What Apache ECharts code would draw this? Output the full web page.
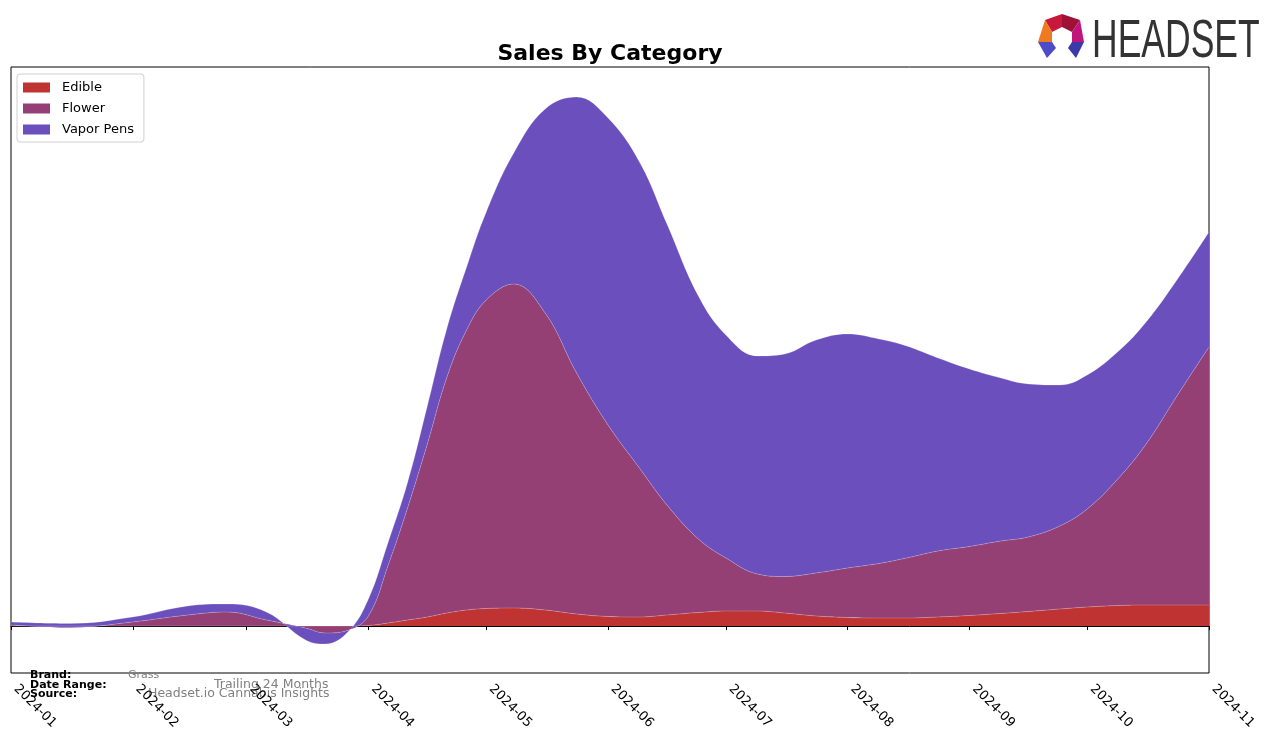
<!DOCTYPE html>
<html>
<head>
<meta charset="utf-8">
<script src="https://cdn.jsdelivr.net/npm/echarts@6/dist/echarts.min.js"></script>
<style>
html,body{margin:0;padding:0;background:#fff;}
#chart{width:1276px;height:743px;}
</style>
</head>
<body>
<div id="chart"></div>
<script>
// Sample dates
var dates = ['2024-01-01','2024-01-16','2024-02-01','2024-02-15','2024-02-25','2024-03-06','2024-03-16','2024-03-21','2024-03-27',
  '2024-04-01','2024-04-06','2024-04-11','2024-04-16','2024-04-21','2024-04-26','2024-05-01','2024-05-08','2024-05-16','2024-05-24',
  '2024-06-01','2024-06-09','2024-06-16','2024-06-24','2024-07-01','2024-07-09','2024-07-16','2024-07-24','2024-08-01','2024-08-09',
  '2024-08-16','2024-08-24','2024-09-01','2024-09-09','2024-09-16','2024-09-24','2024-10-01','2024-10-09','2024-10-16','2024-10-24','2024-11-01'];
var categories = ['Edible','Flower','Vapor Pens'];
var edible = [0,0,0,0,0,0,0,0,0,0.5,3,6,9,13,16,17.5,18,16,12,9.5,9,11,13.5,15,15,13,10,8.5,8,8,9,10.5,12.5,14.5,17,19,20.5,21,21,21];
var flower = [1,-1.5,4,11,14,6,-2,-7,-4,9.5,57.5,112.5,173,236,280,308.5,324,297,241,191.5,149,110,73.5,53,37,36.5,43,49.5,54.5,60,66,69,72.5,74.5,83,98,127.5,161,210,258];
var vaporPens = [3,4,5,9,8,8,-12,-11,-1,17,23,25.5,38,49,63,88,131,204,276,307,306,281,243,223,218,222.5,233,234,224.5,212,193,177.5,163,153,141,134,127,122,116,115];
var colors = ['#c03333','#954075','#6a4fbd'];
var seriesValues = [edible, flower, vaporPens];

var chart = echarts.init(document.getElementById('chart'));
var series = categories.map(function(name, i){
  return {
    name: name,
    type: 'line',
    stack: 'total',
    stackStrategy: 'all',
    smooth: 0.4,
    symbol: 'none',
    lineStyle: {width: 0.6, color: 'rgba(255,255,255,0.35)'},
    areaStyle: {color: colors[i], opacity: 1},
    itemStyle: {color: colors[i]},
    data: dates.map(function(d, k){ return [d, seriesValues[i][k]]; })
  };
});

var option = {
  animation: false,
  backgroundColor: '#fff',
  title: {
    text: 'Sales By Category',
    left: 605, top: 38, textAlign: 'center',
    textStyle: {fontFamily: 'DejaVu Sans', fontSize: 22, fontWeight: 'bold', color: '#000'}
  },
  legend: {
    orient: 'vertical', left: 17, top: 74,
    padding: [7, 10, 6, 6], itemGap: 8, itemWidth: 27, itemHeight: 10,
    borderColor: '#d0d0d0', borderWidth: 1, borderRadius: 3,
    icon: 'rect',
    textStyle: {fontFamily: 'DejaVu Sans', fontSize: 13, color: '#000', padding: [0,0,0,7]},
    data: categories
  },
  grid: {left: 11, right: 67, top: 67, bottom: 70, show: true, borderColor: '#000', borderWidth: 1, backgroundColor: 'transparent'},
  xAxis: {
    type: 'time',
    min: '2024-01-01', max: '2024-11-01',
    minInterval: 28*24*3600*1000, maxInterval: 31*24*3600*1000,
    axisLine: {show: true, lineStyle: {color: '#000', width: 1}},
    axisTick: {show: true, length: 4, lineStyle: {color: '#000'}},
    splitLine: {show: false},
    axisLabel: {
      rotate: -45, fontFamily: 'DejaVu Sans', fontSize: 13, color: '#000', margin: 9,
      padding: [0, 0, 0, 7],
      formatter: '{yyyy}-{MM}', showMinLabel: true, showMaxLabel: true, hideOverlap: false
    }
  },
  yAxis: {
    type: 'value', min: -47, max: 559,
    axisLine: {show: false}, axisTick: {show: false}, axisLabel: {show: false}, splitLine: {show: false}
  },
  series: series,
  graphic: [
    {type: 'text', left: 30, top: 670, style: {text: 'Brand:', font: 'bold 11px "DejaVu Sans"', fill: '#000'}},
    {type: 'text', left: 30, top: 680, style: {text: 'Date Range:', font: 'bold 11px "DejaVu Sans"', fill: '#000'}},
    {type: 'text', left: 30, top: 689, style: {text: 'Source:', font: 'bold 11px "DejaVu Sans"', fill: '#000'}},
    {type: 'text', left: 128, top: 670, style: {text: 'Grass', font: '11px "DejaVu Sans"', fill: '#808080'}},
    {type: 'text', left: 214, top: 678, style: {text: 'Trailing 24 Months', font: '12.5px "DejaVu Sans"', fill: '#808080'}},
    {type: 'text', left: 148, top: 687, style: {text: 'Headset.io Cannabis Insights', font: '12.5px "DejaVu Sans"', fill: '#808080'}},
    {type: 'text', x: 1092, y: 16, scaleX: 0.67, style: {text: 'HEADSET', font: '53px "Liberation Sans"', fill: '#333333'}},
    {type: 'polygon', shape: {points: [[1045,20],[1062,14],[1062,27],[1052,32]]}, style: {fill: '#c8193c'}},
    {type: 'polygon', shape: {points: [[1062,14],[1080,20],[1072,32],[1062,27]]}, style: {fill: '#9e1238'}},
    {type: 'polygon', shape: {points: [[1045,20],[1052,32],[1052,42],[1038,42]]}, style: {fill: '#f07a22'}},
    {type: 'polygon', shape: {points: [[1080,20],[1084,42],[1072,42],[1072,32]]}, style: {fill: '#c0157c'}},
    {type: 'polygon', shape: {points: [[1038,42],[1052,42],[1056,48],[1047,58]]}, style: {fill: '#4c4cc8'}},
    {type: 'polygon', shape: {points: [[1072,42],[1084,42],[1076,58],[1068,48]]}, style: {fill: '#3a3aa8'}}
  ]
};
chart.setOption(option);
</script>
</body>
</html>
